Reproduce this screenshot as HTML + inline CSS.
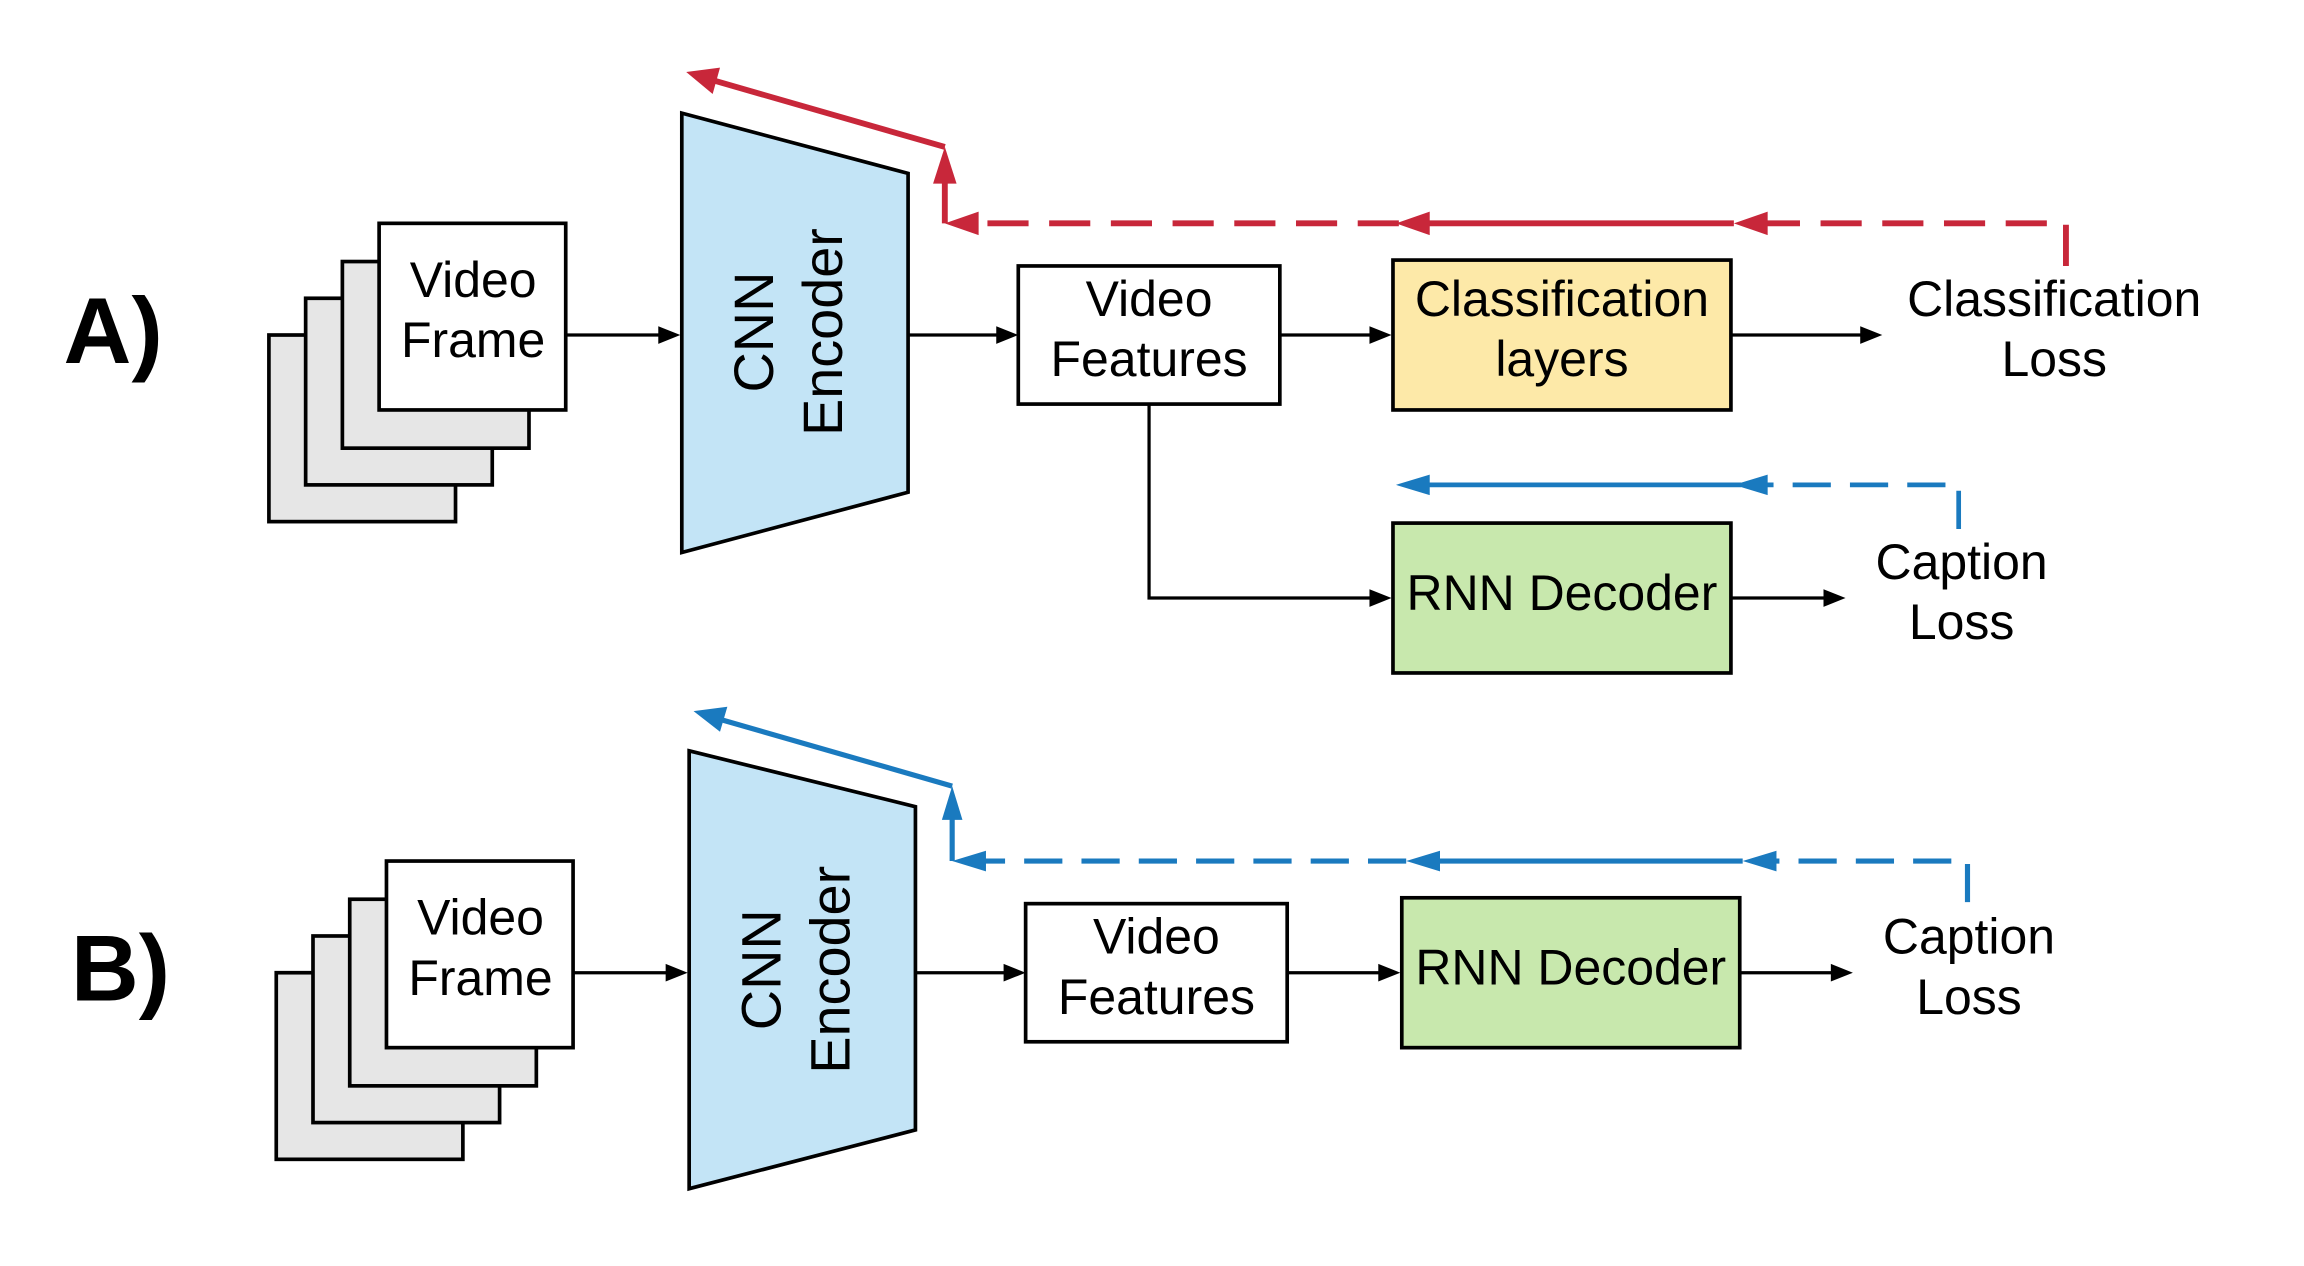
<!DOCTYPE html>
<html><head><style>html,body{margin:0;padding:0;background:#fff;}svg{display:block}</style></head>
<body>
<svg width="2304" height="1266" viewBox="0 0 1568 861.6" xmlns="http://www.w3.org/2000/svg" font-family="Liberation Sans, sans-serif">
<style>
.t{font-size:34px;text-anchor:middle;fill:#000}
.r{font-size:38px;text-anchor:middle;fill:#000}
.b{stroke:#000;stroke-width:2.5}
</style>
<!-- A -->
<text x="77" y="247" font-size="64" font-weight="bold" text-anchor="middle">A)</text>
<g class="b">
<rect x="183" y="228" width="127" height="127" fill="#e6e6e6"/>
<rect x="208" y="203" width="127" height="127" fill="#e6e6e6"/>
<rect x="233" y="178" width="127" height="127" fill="#e6e6e6"/>
<rect x="258" y="152" width="127" height="127" fill="#fff"/>
<polygon points="464,77 618,118 618,335 464,376" fill="#c3e4f6"/>
<rect x="693" y="181" width="178" height="94" fill="#fff"/>
<rect x="948" y="177" width="230" height="102" fill="#fde9a8"/>
<rect x="948" y="356" width="230" height="102" fill="#c8e8ad"/>
</g>
<text class="t" x="322" y="202">Video</text><text class="t" x="322" y="243">Frame</text>
<text class="r" transform="translate(526,226) rotate(-90)">CNN</text>
<text class="r" transform="translate(573,226) rotate(-90)">Encoder</text>
<text class="t" x="782" y="215">Video</text><text class="t" x="782" y="256">Features</text>
<text class="t" x="1063" y="215">Classification</text><text class="t" x="1063" y="256">layers</text>
<text class="t" x="1063" y="415">RNN Decoder</text>
<text class="t" x="1398" y="215">Classification</text><text class="t" x="1398" y="256">Loss</text>
<text class="t" x="1335" y="394">Caption</text><text class="t" x="1335" y="435">Loss</text>
<g stroke="#000" stroke-width="2.2" fill="none">
<line x1="385" y1="228" x2="450" y2="228"/><line x1="618" y1="228" x2="680" y2="228"/>
<line x1="871" y1="228" x2="935" y2="228"/><line x1="1178" y1="228" x2="1268" y2="228"/>
<polyline points="782,275 782,407 935,407"/><line x1="1178" y1="407" x2="1243" y2="407"/>
</g>
<g fill="#000">
<polygon points="463,228 448,222 448,234"/><polygon points="693,228 678,222 678,234"/>
<polygon points="947,228 932,222 932,234"/><polygon points="1281,228 1266,222 1266,234"/>
<polygon points="947,407 932,401 932,413"/><polygon points="1256,407 1241,401 1241,413"/>
</g>
<!-- red -->
<g stroke="#c8273a" stroke-width="4" fill="none">
<polyline points="1406,181 1406,152 1190,152" stroke-dasharray="28,14"/>
<line x1="1180" y1="152" x2="965" y2="152"/>
<line x1="952" y1="152" x2="655" y2="152" stroke-dasharray="28,14"/>
<line x1="643" y1="152" x2="643" y2="115"/>
<line x1="643" y1="100" x2="483" y2="54"/>
</g>
<g fill="#c8273a">
<polygon points="1180,152 1203,144 1203,160"/><polygon points="950,152 973,144 973,160"/>
<polygon points="643,152 666,144 666,160"/><polygon points="643,100 635,125 651,125"/>
<polygon points="467,49 490,46 485,64"/>
</g>
<!-- blue A -->
<g stroke="#1a7abf" stroke-width="3.2" fill="none">
<polyline points="1333,360 1333,330 1195,330" stroke-dasharray="26,13"/>
<line x1="1185" y1="330" x2="965" y2="330"/>
</g>
<g fill="#1a7abf"><polygon points="1180,330 1203,323 1203,337"/><polygon points="950,330 973,323 973,337"/></g>

<!-- B -->
<text x="82" y="681" font-size="64" font-weight="bold" text-anchor="middle">B)</text>
<g class="b">
<rect x="188" y="662" width="127" height="127" fill="#e6e6e6"/>
<rect x="213" y="637" width="127" height="127" fill="#e6e6e6"/>
<rect x="238" y="612" width="127" height="127" fill="#e6e6e6"/>
<rect x="263" y="586" width="127" height="127" fill="#fff"/>
<polygon points="469,511 623,549 623,769 469,809" fill="#c3e4f6"/>
<rect x="698" y="615" width="178" height="94" fill="#fff"/>
<rect x="954" y="611" width="230" height="102" fill="#c8e8ad"/>
</g>
<text class="t" x="327" y="636">Video</text><text class="t" x="327" y="677">Frame</text>
<text class="r" transform="translate(531,660) rotate(-90)">CNN</text>
<text class="r" transform="translate(578,660) rotate(-90)">Encoder</text>
<text class="t" x="787" y="649">Video</text><text class="t" x="787" y="690">Features</text>
<text class="t" x="1069" y="670">RNN Decoder</text>
<text class="t" x="1340" y="649">Caption</text><text class="t" x="1340" y="690">Loss</text>
<g stroke="#000" stroke-width="2.2" fill="none">
<line x1="390" y1="662" x2="455" y2="662"/><line x1="623" y1="662" x2="685" y2="662"/>
<line x1="876" y1="662" x2="940" y2="662"/><line x1="1184" y1="662" x2="1248" y2="662"/>
</g>
<g fill="#000">
<polygon points="468,662 453,656 453,668"/><polygon points="698,662 683,656 683,668"/>
<polygon points="953,662 938,656 938,668"/><polygon points="1261,662 1246,656 1246,668"/>
</g>
<g stroke="#1a7abf" stroke-width="3.5" fill="none">
<polyline points="1339,614 1339,586 1196,586" stroke-dasharray="26,13"/>
<line x1="1186" y1="586" x2="970" y2="586"/>
<line x1="957" y1="586" x2="660" y2="586" stroke-dasharray="26,13"/>
<line x1="648" y1="586" x2="648" y2="550"/>
<line x1="648" y1="535" x2="488" y2="489"/>
</g>
<g fill="#1a7abf">
<polygon points="1186,586 1209,579 1209,593"/><polygon points="957,586 980,579 980,593"/>
<polygon points="648,586 671,579 671,593"/><polygon points="648,535 641,558 655,558"/>
<polygon points="472,484 495,481 490,498"/>
</g>
</svg>
</body></html>
